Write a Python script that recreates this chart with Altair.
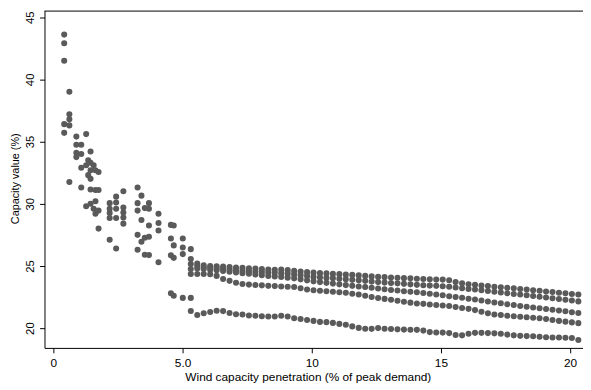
import altair as alt
import pandas as pd

# Scattered low-penetration observations (x: % of peak demand, y: capacity value %)
early_x = [0.42, 0.42, 0.42, 0.42, 0.42,
           0.62, 0.62, 0.62, 0.62, 0.62,
           0.89, 0.89, 0.89, 0.89,
           1.08, 1.08, 1.08, 1.08,
           1.27, 1.27, 1.27,
           1.35, 1.35,
           1.44, 1.44, 1.44, 1.44, 1.44, 1.44,
           1.56, 1.56,
           1.63, 1.63, 1.63, 1.63,
           1.75, 1.75, 1.75, 1.75,
           2.18, 2.18, 2.18, 2.18, 2.18,
           2.43, 2.43, 2.43, 2.43, 2.43,
           2.71, 2.71, 2.71, 2.71, 2.71,
           3.26, 3.26, 3.26, 3.26, 3.26,
           3.41, 3.41, 3.41,
           3.54, 3.54, 3.54,
           3.70, 3.70, 3.70, 3.70, 3.70,
           4.07, 4.07, 4.07, 4.07,
           4.55, 4.55, 4.55, 4.55,
           4.66, 4.66, 4.66, 4.66,
           5.01, 5.01, 5.01, 5.01,
           5.32, 5.32]
early_y = [43.6, 42.9, 41.5, 36.4, 35.7,
           39.0, 37.2, 36.8, 36.3, 31.75,
           35.4, 34.75, 34.1, 33.75,
           34.75, 34.0, 32.9, 31.3,
           35.6, 33.1, 29.8,
           33.5, 32.3,
           34.2, 33.3, 32.7, 32.0, 31.15, 30.0,
           33.1, 29.6,
           32.7, 31.1, 30.2, 29.2,
           32.55, 31.1, 29.45, 28.0,
           30.05, 29.6, 29.25, 28.85, 27.1,
           30.57, 30.1, 29.6, 28.85, 26.4,
           31.0, 29.7, 29.3, 28.9, 28.4,
           31.3, 30.05, 29.45, 27.5, 26.3,
           30.65, 28.7, 26.95,
           29.65, 27.27, 25.9,
           30.05, 29.6, 28.25, 27.35, 25.87,
           29.2, 28.45, 27.85, 25.3,
           28.3, 27.2, 25.85, 22.8,
           28.25, 26.65, 25.65, 22.6,
           27.2, 26.48, 25.95, 22.43,
           26.35, 22.43]

# Penetration levels of the five smooth runs
series_x = [5.32, 5.57, 5.82, 6.07, 6.32, 6.57, 6.82, 7.07, 7.32, 7.57,
            7.82, 8.07, 8.32, 8.57, 8.82, 9.07, 9.32, 9.57, 9.82, 10.07,
            10.32, 10.57, 10.82, 11.07, 11.32, 11.57, 11.82, 12.07, 12.32, 12.57,
            12.82, 13.07, 13.32, 13.57, 13.82, 14.07, 14.32, 14.57, 14.82, 15.07,
            15.32, 15.57, 15.82, 16.07, 16.32, 16.57, 16.82, 17.07, 17.32, 17.57,
            17.82, 18.07, 18.32, 18.57, 18.82, 19.07, 19.32, 19.57, 19.82, 20.07,
            20.32]

cv_a = [25.55, 25.2, 25.05, 25.0, 24.98, 24.95, 24.92, 24.88, 24.85, 24.82,
        24.8, 24.76, 24.72, 24.7, 24.72, 24.66, 24.6, 24.55, 24.5, 24.46,
        24.42, 24.4, 24.36, 24.34, 24.3, 24.28, 24.24, 24.2, 24.16, 24.12,
        24.1, 24.07, 24.05, 24.02, 24.0, 23.97, 23.95, 23.92, 23.9, 23.9,
        23.85, 23.7, 23.6, 23.52, 23.48, 23.43, 23.38, 23.33, 23.28, 23.24,
        23.2, 23.15, 23.1, 23.05, 23.0, 22.95, 22.9, 22.85, 22.8, 22.75,
        22.7]
cv_b = [25.15, 25.0, 24.9, 24.85, 24.82, 24.78, 24.72, 24.66, 24.62, 24.58,
        24.55, 24.52, 24.48, 24.45, 24.42, 24.38, 24.32, 24.26, 24.2, 24.12,
        24.08, 24.04, 24.0, 23.96, 23.92, 23.88, 23.84, 23.8, 23.74, 23.7,
        23.66, 23.62, 23.6, 23.56, 23.52, 23.48, 23.45, 23.42, 23.4, 23.37,
        23.32, 23.26, 23.2, 23.15, 23.1, 23.05, 22.98, 22.92, 22.86, 22.8,
        22.75, 22.7, 22.64, 22.58, 22.52, 22.46, 22.4, 22.34, 22.28, 22.22,
        22.15]
cv_c = [24.75, 24.8, 24.75, 24.7, 24.66, 24.6, 24.54, 24.48, 24.42, 24.38,
        24.32, 24.26, 24.2, 24.16, 24.12, 24.06, 24.0, 23.92, 23.84, 23.76,
        23.7, 23.64, 23.58, 23.52, 23.46, 23.4, 23.35, 23.3, 23.24, 23.18,
        23.12, 23.07, 23.02, 22.97, 22.92, 22.88, 22.82, 22.76, 22.7, 22.64,
        22.56, 22.5, 22.44, 22.36, 22.3, 22.22, 22.14, 22.06, 22.0, 21.92,
        21.86, 21.78, 21.72, 21.66, 21.6, 21.54, 21.48, 21.42, 21.36, 21.28,
        21.22]
cv_d = [24.35, 24.35, 24.35, 24.33, 24.2, 23.95, 23.8, 23.65, 23.55, 23.5,
        23.47, 23.44, 23.4, 23.38, 23.35, 23.32, 23.3, 23.2, 23.1, 23.04,
        23.0, 22.96, 22.92, 22.88, 22.84, 22.76, 22.7, 22.6, 22.5, 22.42,
        22.35, 22.28, 22.2, 22.12, 22.05, 21.98, 21.95, 21.9, 21.86, 21.82,
        21.78, 21.7, 21.62, 21.55, 21.45, 21.32, 21.2, 21.1, 21.05, 21.0,
        20.96, 20.92, 20.88, 20.84, 20.8, 20.74, 20.66, 20.58, 20.52, 20.46,
        20.4]
cv_e = [21.38, 21.05, 21.2, 21.3, 21.4, 21.37, 21.22, 21.12, 21.1, 21.02,
        21.0, 20.95, 20.93, 20.93, 21.0, 20.93, 20.8, 20.74, 20.66, 20.58,
        20.5, 20.48, 20.42, 20.34, 20.27, 20.14, 20.02, 19.95, 19.94, 20.0,
        19.95, 19.93, 19.9, 19.88, 19.87, 19.86, 19.8, 19.68, 19.65, 19.64,
        19.6, 19.45, 19.42, 19.55, 19.62, 19.62, 19.6, 19.58, 19.55, 19.48,
        19.42, 19.38, 19.36, 19.34, 19.3, 19.27, 19.25, 19.24, 19.23, 19.2,
        19.05]

x_ticks = [0, 5, 10, 15, 20]
y_ticks = [20, 25, 30, 35, 40, 45]

rows = [{"pen": x, "cv": y} for x, y in zip(early_x, early_y)]
for s in (cv_a, cv_b, cv_c, cv_d, cv_e):
    rows += [{"pen": x, "cv": y} for x, y in zip(series_x, s)]
df = pd.DataFrame(rows)

W, H = 546, 342
FONT = "Liberation Sans"

x_axis = alt.Axis(
    values=x_ticks, grid=False, domainColor="black", domainWidth=1,
    tickColor="black", tickSize=5, tickWidth=1,
    labelExpr="datum.value == 5 ? '5.0' : format(datum.value, 'd')",
    labelFont=FONT, labelFontSize=12, labelColor="black",
    labelBaseline="alphabetic", labelPadding=14, labelFlush=False,
    title="Wind capacity penetration (% of peak demand)",
    titleFont=FONT, titleFontSize=12, titleFontWeight="normal", titleColor="black",
    titleBaseline="alphabetic", titleY=33, titleX=W / 2 - 6, titleAlign="center",
)
y_axis = alt.Axis(
    values=y_ticks, grid=False, domainColor="black", domainWidth=1,
    tickColor="black", tickSize=5, tickWidth=1,
    labelFont=FONT, labelFontSize=11.5, labelColor="black",
    labelAngle=270, labelAlign="center", labelBaseline="alphabetic",
    labelPadding=5.7, labelFlush=False,
    title="Capacity value (%)",
    titleFont=FONT, titleFontSize=11, titleFontWeight="normal", titleColor="black",
    titleAngle=270, titleAlign="center", titleBaseline="alphabetic",
    titleX=-26.7, titleY=170,
)

points = alt.Chart(df).mark_circle(size=38, color="#5a5a5a", opacity=1).encode(
    x=alt.X("pen:Q", scale=alt.Scale(domain=[-0.343, 20.50], nice=False, zero=False), axis=x_axis),
    y=alt.Y("cv:Q", scale=alt.Scale(domain=[18.41, 45.53], nice=False, zero=False), axis=y_axis),
)

top_line = alt.Chart(pd.DataFrame({"k": [0]})).mark_rule(color="black", strokeWidth=1).encode(
    x=alt.value(0), x2=alt.value(W), y=alt.value(0.5)
)

chart = alt.layer(points, top_line).properties(
    width=W, height=H,
    autosize=alt.AutoSizeParams(type="none"),
    padding={"left": 37, "top": 0, "right": 0, "bottom": 36},
    background="white",
).configure_view(stroke=None)

chart.save("out.html", embed_options={"renderer": "svg", "actions": False})
